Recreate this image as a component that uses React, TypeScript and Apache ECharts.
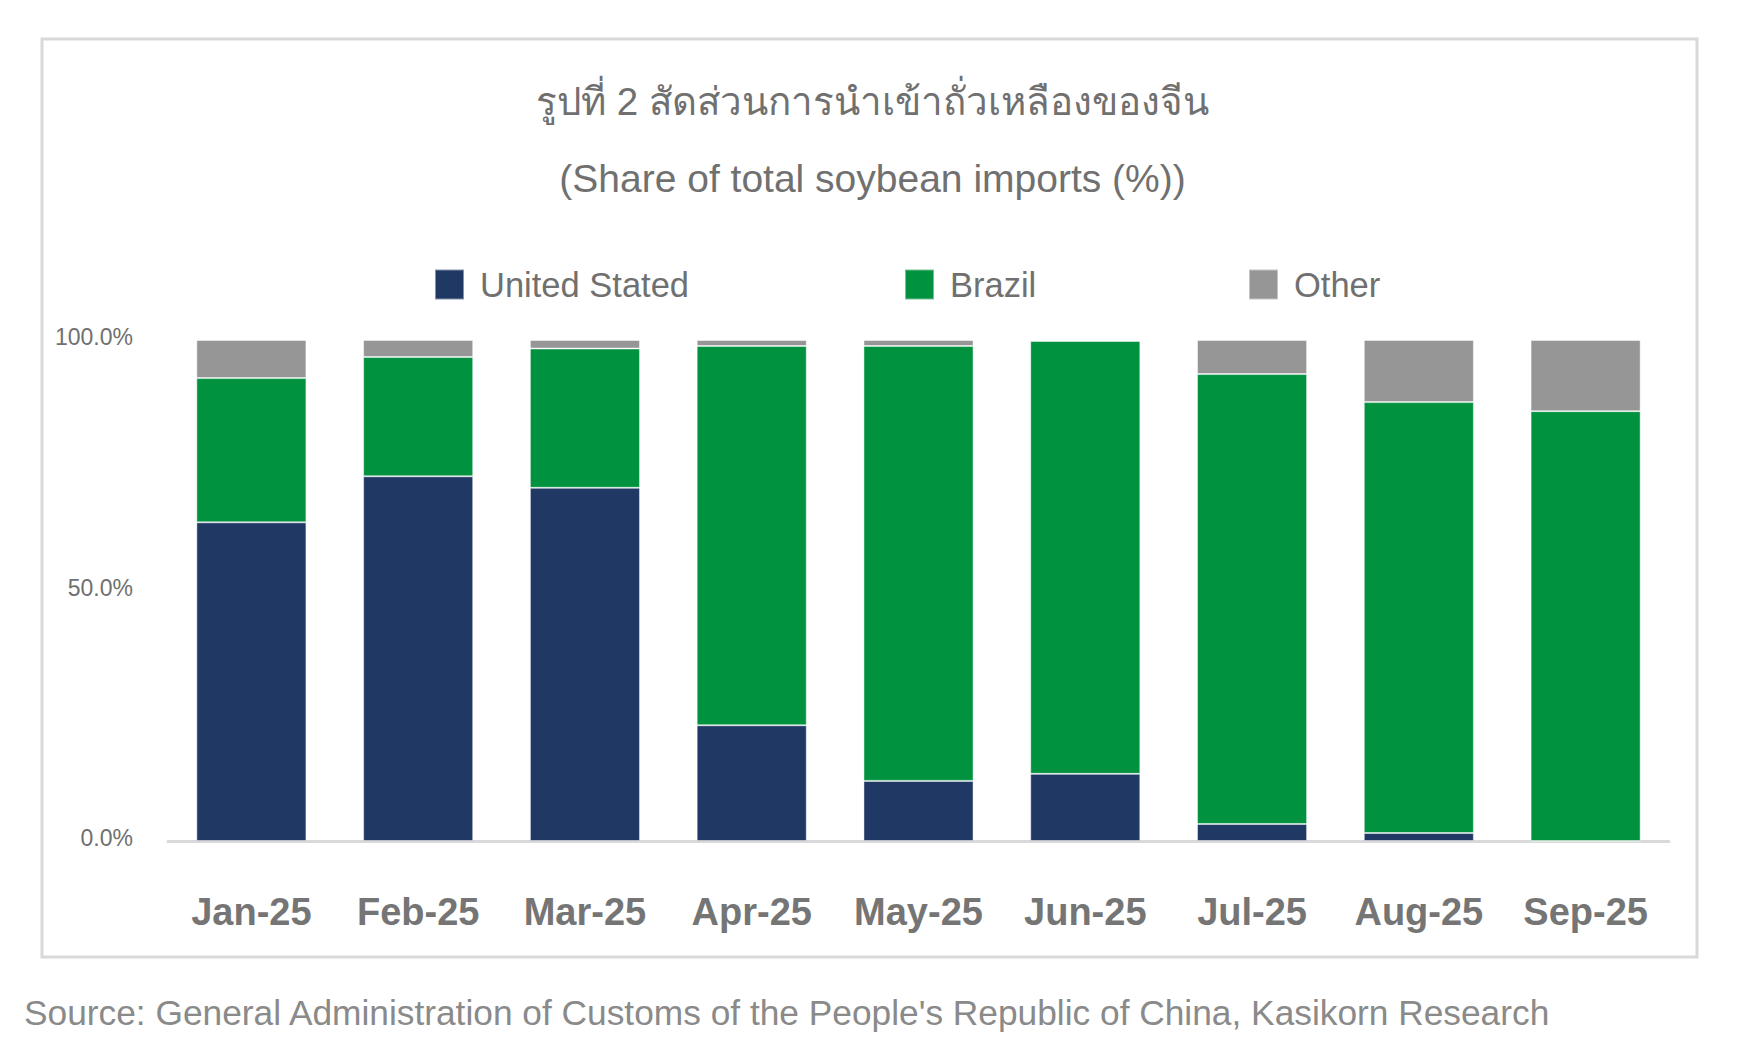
import React, { useEffect, useRef } from "react";
import * as echarts from "echarts";

const months = ["Jan-25", "Feb-25", "Mar-25", "Apr-25", "May-25", "Jun-25", "Jul-25", "Aug-25", "Sep-25"];
const unitedStates = [63.6, 72.8, 70.5, 23.1, 12.0, 13.4, 3.4, 1.6, 0];
const brazil = [28.8, 23.8, 27.8, 75.7, 86.8, 86.4, 89.8, 86.0, 85.8];
const other = [7.6, 3.4, 1.7, 1.2, 1.2, 0.2, 6.8, 12.4, 14.2];
const seriesNames = ["United Stated", "Brazil", "Other"];
const yTicks = [0, 50, 100];

const titleThai = "รูปที่ 2 สัดส่วนการนำเข้าถั่วเหลืองของจีน";
const titleEn = "(Share of total soybean imports (%))";
const sourceText =
  "Source: General Administration of Customs of the People's Republic of China, Kasikorn Research";

const NORMAL = '"Liberation Sans", Arial, "Noto Sans", sans-serif';
const TXT = "#707070";

const COLORS = ["#203864", "#00923F", "#969696"];

export default function App() {
  const ref = useRef<HTMLDivElement>(null);
  useEffect(() => {
    if (!ref.current) return;
    const chart = echarts.init(ref.current, undefined, { renderer: "svg" });
    const data = [unitedStates, brazil, other];
    const legendLefts = [434, 904, 1248];
    chart.setOption({
      animation: false,
      backgroundColor: "#ffffff",
      title: [
        {
          text: titleThai,
          left: "center",
          top: 74,
          padding: 5,
          textStyle: { fontFamily: NORMAL, fontSize: 38.5, fontWeight: "normal", color: TXT, lineHeight: 44 },
        },
        {
          text: titleEn,
          left: "center",
          top: 151,
          padding: 5,
          textStyle: { fontFamily: NORMAL, fontSize: 39, fontWeight: "normal", color: TXT, lineHeight: 44 },
        },
      ],
      legend: seriesNames.map((n, i) => ({
        data: [n],
        left: legendLefts[i],
        top: 267,
        padding: 0,
        itemWidth: 29,
        itemHeight: 30,
        icon: "rect",
        textStyle: {
          fontFamily: NORMAL,
          fontSize: 34.5,
          color: TXT,
          padding: [0, 0, 0, 11],
          lineHeight: 30,
        },
      })),
      grid: { left: 168, right: 76, top: 340, bottom: 222, containLabel: false },
      xAxis: {
        type: "category",
        data: months,
        axisLine: { show: true, lineStyle: { color: "#d9d9d9", width: 3 } },
        axisTick: { show: false },
        axisLabel: {
          interval: 0,
          fontFamily: NORMAL,
          fontWeight: "bold",
          fontSize: 38,
          lineHeight: 38,
          color: "#757575",
          margin: 52,
        },
      },
      yAxis: {
        type: "value",
        min: yTicks[0],
        max: yTicks[yTicks.length - 1],
        interval: yTicks[1] - yTicks[0],
        axisLine: { show: false },
        axisTick: { show: false },
        splitLine: { show: false },
        axisLabel: {
          fontFamily: NORMAL,
          fontSize: 23,
          color: TXT,
          margin: 35,
          verticalAlign: "bottom",
          lineHeight: 6,
          formatter: (v: number) => v.toFixed(1) + "%",
        },
      },
      series: seriesNames.map((n, i) => ({
        name: n,
        type: "bar",
        stack: "total",
        data: data[i],
        barWidth: "66%",
        itemStyle: { color: COLORS[i], borderColor: "rgba(255,255,255,0.45)", borderWidth: 1 },
        emphasis: { disabled: true },
      })),
      graphic: [
        {
          type: "rect",
          shape: { x: 42, y: 39, width: 1655, height: 918 },
          style: { fill: "none", stroke: "#d9d9d9", lineWidth: 3 },
          silent: true,
        },
        {
          type: "text",
          left: 24,
          top: 995,
          style: { text: sourceText, font: `35.3px ${NORMAL}`, fill: "#8a8a8a" },
          silent: true,
        },
      ],
    });
    return () => chart.dispose();
  }, []);
  return (
    <div
      ref={ref}
      style={{ position: "absolute", left: 0, top: 0, width: 1745, height: 1063 }}
    />
  );
}
